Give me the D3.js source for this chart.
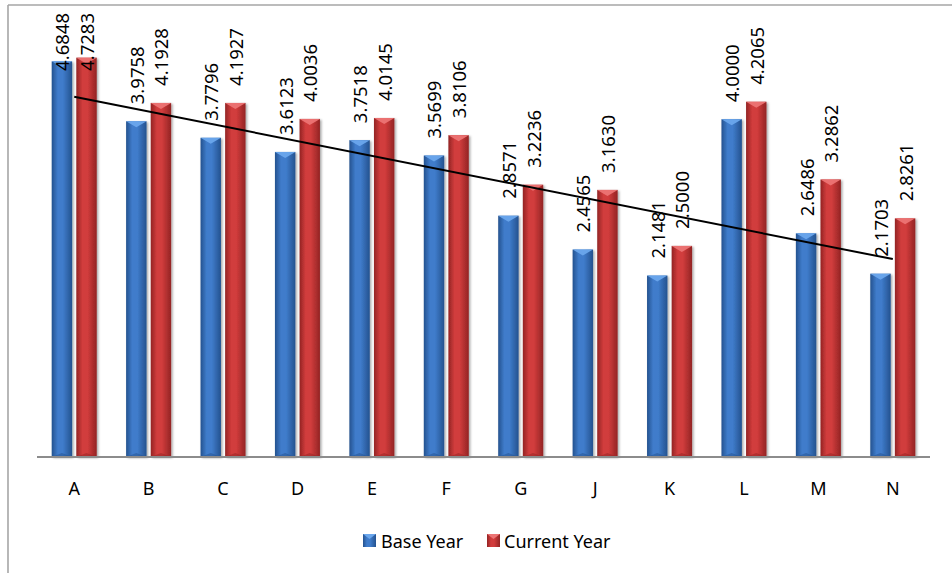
<!DOCTYPE html>
<html>
<head>
<meta charset="utf-8">
<script src="https://cdn.jsdelivr.net/npm/d3@7"></script>
<style>
  html, body { margin: 0; padding: 0; background: #fff; }
  svg { display: block; font-family: "Noto Sans", "Open Sans", sans-serif; }
</style>
</head>
<body>
<svg id="chart" width="952" height="573"></svg>
<script>
// Categories and the two yearly series
const categories = ["A", "B", "C", "D", "E", "F", "G", "J", "K", "L", "M", "N"];
const baseYear    = [4.6848, 3.9758, 3.7796, 3.6123, 3.7518, 3.5699, 2.8571, 2.4565, 2.1481, 4.0000, 2.6486, 2.1703];
const currentYear = [4.7283, 4.1928, 4.1927, 4.0036, 4.0145, 3.8106, 3.2236, 3.1630, 2.5000, 4.2065, 3.2862, 2.8261];
const seriesNames = ["Base Year", "Current Year"];

const svg = d3.select("#chart");
const W = 952, H = 573;

const series = [
  { name: seriesNames[0], values: baseYear,    mid: "#3f7ccb", edge: "#24528f", top: "#6aa6ec", key: "blue" },
  { name: seriesNames[1], values: currentYear, mid: "#d13c3c", edge: "#932424", top: "#ec7474", key: "red" }
];

// Outer frame (top and left edges)
svg.append("line").attr("x1", 8).attr("x2", W).attr("y1", 5).attr("y2", 5)
  .attr("stroke", "#a6a6a6").attr("stroke-width", 1.6);
svg.append("line").attr("x1", 8).attr("x2", 8).attr("y1", 5).attr("y2", H)
  .attr("stroke", "#a6a6a6").attr("stroke-width", 1.6);

// Scales
const x0 = d3.scaleBand().domain(categories).range([37, 930]).paddingInner(0.395).paddingOuter(0.1975);
const x1 = d3.scaleBand().domain(seriesNames).range([0, x0.bandwidth()]).paddingInner(0.17);
const y = d3.scaleLinear().domain([0, 5]).range([457, 34.75]);

// Gradients and shadow
const defs = svg.append("defs");
series.forEach(s => {
  const g = defs.append("linearGradient").attr("id", "grad-" + s.key)
    .attr("x1", "0%").attr("x2", "100%").attr("y1", "0%").attr("y2", "0%");
  g.append("stop").attr("offset", "0%").attr("stop-color", s.edge);
  g.append("stop").attr("offset", "30%").attr("stop-color", s.mid);
  g.append("stop").attr("offset", "55%").attr("stop-color", s.mid);
  g.append("stop").attr("offset", "100%").attr("stop-color", s.edge);
});
const f = defs.append("filter").attr("id", "shadow").attr("x", "-20%").attr("y", "-5%").attr("width", "150%").attr("height", "115%");
f.append("feDropShadow").attr("dx", 1.5).attr("dy", 1).attr("stdDeviation", 1.2)
  .attr("flood-color", "#000").attr("flood-opacity", 0.35);

// Bars
const groups = svg.append("g").selectAll("g").data(categories).join("g")
  .attr("transform", d => `translate(${x0(d)},0)`);

series.forEach(s => {
  groups.each(function(cat, i) {
    const g = d3.select(this);
    const bx = x1(s.name), bw = x1.bandwidth();
    const top = y(s.values[i]), bot = y(0);
    g.append("rect").attr("x", bx).attr("y", top).attr("width", bw).attr("height", bot - top)
      .attr("fill", `url(#grad-${s.key})`).attr("filter", "url(#shadow)");
    // bevelled top face
    g.append("path")
      .attr("d", `M${bx},${top} L${bx + bw},${top} L${bx + bw / 2},${top + 6} Z`)
      .attr("fill", s.top).attr("opacity", 0.95);
    g.append("path")
      .attr("d", `M${bx},${top} L${bx + bw / 2},${top + 6} L${bx + bw / 2},${bot} L${bx},${bot} Z`)
      .attr("fill", "none");
    // bevelled bottom edge
    g.append("path")
      .attr("d", `M${bx},${bot} L${bx + bw},${bot} L${bx + bw / 2},${bot - 4} Z`)
      .attr("fill", s.edge).attr("opacity", 0.5);
  });
});

// Category axis line
svg.append("line").attr("x1", 37).attr("x2", 930).attr("y1", y(0)).attr("y2", y(0))
  .attr("stroke", "#8c8c8c").attr("stroke-width", 2);

// Category labels
const xAxis = d3.axisBottom(x0).tickSize(0).tickPadding(0);
const axG = svg.append("g").attr("transform", `translate(0,${y(0) + 25})`).call(xAxis);
axG.select(".domain").remove();
axG.selectAll("text").attr("font-size", 18).attr("font-family", "Noto Sans, sans-serif")
  .attr("fill", "#000").attr("dy", "0.71em").attr("y", 0);

// Linear trend of base year values
const n = baseYear.length;
const xm = d3.mean(d3.range(n)), ym = d3.mean(baseYear);
const slope = d3.sum(d3.range(n), i => (i - xm) * (baseYear[i] - ym)) / d3.sum(d3.range(n), i => (i - xm) ** 2);
const icpt = ym - slope * xm;
const cx = c => x0(c) + x0.bandwidth() / 2;
svg.append("line")
  .attr("x1", cx(categories[0])).attr("y1", y(icpt))
  .attr("x2", cx(categories[n - 1])).attr("y2", y(icpt + slope * (n - 1)))
  .attr("stroke", "#000").attr("stroke-width", 2);

// Value labels, rotated
series.forEach(s => {
  groups.each(function(cat, i) {
    const g = d3.select(this);
    const bx = x1(s.name) + x1.bandwidth() / 2;
    const t = g.append("text")
      .attr("font-size", 18.5).attr("fill", "#000")
      .attr("dominant-baseline", "central")
      .text(s.values[i].toFixed(4));
    const len = t.node().getComputedTextLength();
    const start = Math.max(y(s.values[i]) - 17, 13 + len);
    t.attr("transform", `translate(${bx},${start}) rotate(-90)`);
  });
});

// Legend
const legend = svg.append("g");
const legendItems = [
  { s: series[0], mx: 363, tx: 381 },
  { s: series[1], mx: 487, tx: 504 }
];
legendItems.forEach(it => {
  legend.append("rect").attr("x", it.mx).attr("y", 534).attr("width", 13).attr("height", 13)
    .attr("fill", `url(#grad-${it.s.key})`);
  legend.append("path")
    .attr("d", `M${it.mx},534 L${it.mx + 13},534 L${it.mx + 6.5},539 Z`)
    .attr("fill", it.s.top);
  legend.append("text").attr("x", it.tx).attr("y", 540.5)
    .attr("dominant-baseline", "central").attr("font-size", 18).attr("fill", "#000")
    .text(it.s.name);
});
</script>
</body>
</html>
